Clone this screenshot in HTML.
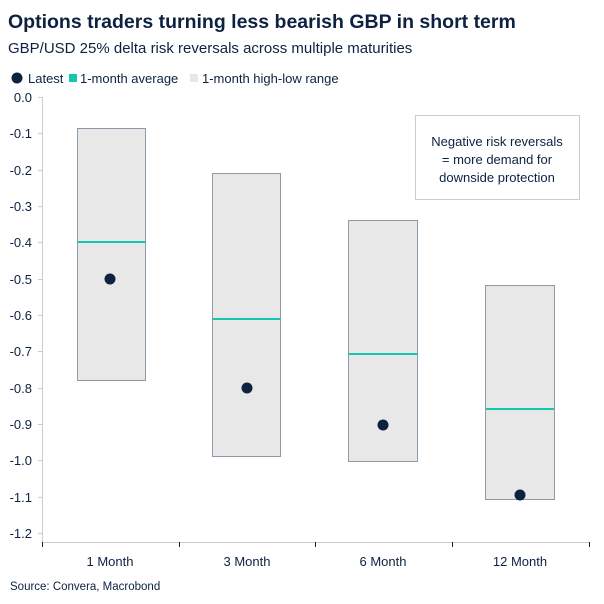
<!DOCTYPE html>
<html><head><meta charset="utf-8"><style>
body{margin:0;background:#fff}
svg{display:block;font-family:"Liberation Sans",sans-serif}
</style></head><body>
<svg width="604" height="604" viewBox="0 0 604 604">
<text x="8" y="28" font-size="19.5" font-weight="bold" fill="#0d2240">Options traders turning less bearish GBP in short term</text>
<text x="8" y="53" font-size="15" fill="#0d2240">GBP/USD 25% delta risk reversals across multiple maturities</text>
<circle cx="17" cy="78" r="5.5" fill="#0d2240"/>
<text x="28" y="83" font-size="13" fill="#0d2240">Latest</text>
<rect x="69" y="74" width="8" height="8" fill="#14c8b0"/>
<text x="80" y="83" font-size="13" fill="#0d2240">1-month average</text>
<rect x="190" y="74" width="8" height="8" fill="#e8e8e8"/>
<text x="202" y="83" font-size="13" fill="#0d2240">1-month high-low range</text>
<g font-size="13" fill="#0d2240" text-anchor="end">
<text x="32" y="102">0.0</text><text x="32" y="138">-0.1</text><text x="32" y="175">-0.2</text>
<text x="32" y="211">-0.3</text><text x="32" y="247">-0.4</text><text x="32" y="284">-0.5</text>
<text x="32" y="320">-0.6</text><text x="32" y="356">-0.7</text><text x="32" y="393">-0.8</text>
<text x="32" y="429">-0.9</text><text x="32" y="465">-1.0</text><text x="32" y="502">-1.1</text>
<text x="32" y="538">-1.2</text>
</g>
<g stroke="#ccc" stroke-width="1">
<line x1="42.5" y1="97" x2="42.5" y2="542"/>
<line x1="42" y1="542.5" x2="590" y2="542.5"/>
<line x1="38" y1="97.5" x2="42" y2="97.5"/><line x1="38" y1="133.5" x2="42" y2="133.5"/>
<line x1="38" y1="170.5" x2="42" y2="170.5"/><line x1="38" y1="206.5" x2="42" y2="206.5"/>
<line x1="38" y1="242.5" x2="42" y2="242.5"/><line x1="38" y1="279.5" x2="42" y2="279.5"/>
<line x1="38" y1="315.5" x2="42" y2="315.5"/><line x1="38" y1="351.5" x2="42" y2="351.5"/>
<line x1="38" y1="388.5" x2="42" y2="388.5"/><line x1="38" y1="424.5" x2="42" y2="424.5"/>
<line x1="38" y1="460.5" x2="42" y2="460.5"/><line x1="38" y1="497.5" x2="42" y2="497.5"/>
<line x1="38" y1="533.5" x2="42" y2="533.5"/>
</g>
<g stroke="#0d2240" stroke-width="1">
<line x1="42.5" y1="542" x2="42.5" y2="547"/><line x1="179.5" y1="542" x2="179.5" y2="547"/>
<line x1="315.5" y1="542" x2="315.5" y2="547"/><line x1="452.5" y1="542" x2="452.5" y2="547"/>
<line x1="589.5" y1="542" x2="589.5" y2="547"/>
</g>
<g fill="#e8e8e8" stroke="#8a9aa8" stroke-width="1">
<rect x="77.5" y="128.5" width="68" height="252"/>
<rect x="212.5" y="173.5" width="68" height="283"/>
<rect x="348.5" y="220.5" width="69" height="241"/>
<rect x="485.5" y="285.5" width="69" height="214"/>
</g>
<g stroke="#14c8b0" stroke-width="2">
<line x1="78" y1="242" x2="145" y2="242"/>
<line x1="213" y1="319" x2="280" y2="319"/>
<line x1="349" y1="354" x2="417" y2="354"/>
<line x1="486" y1="409" x2="554" y2="409"/>
</g>
<g fill="#0d2240">
<circle cx="110" cy="279" r="5.5"/><circle cx="247" cy="388" r="5.5"/>
<circle cx="383" cy="425" r="5.5"/><circle cx="520" cy="495" r="5.5"/>
</g>
<g font-size="13" fill="#0d2240" text-anchor="middle">
<text x="110" y="566">1 Month</text><text x="247" y="566">3 Month</text>
<text x="383" y="566">6 Month</text><text x="520" y="566">12 Month</text>
</g>
<text x="10" y="590" font-size="11.5" fill="#0d2240">Source: Convera, Macrobond</text>
<rect x="415.5" y="115.5" width="164" height="84" fill="#fff" stroke="#ccc"/>
<g font-size="13" fill="#0d2240" text-anchor="middle">
<text x="497" y="146">Negative risk reversals</text>
<text x="497" y="164">= more demand for</text>
<text x="497" y="182">downside protection</text>
</g>
</svg>
</body></html>
